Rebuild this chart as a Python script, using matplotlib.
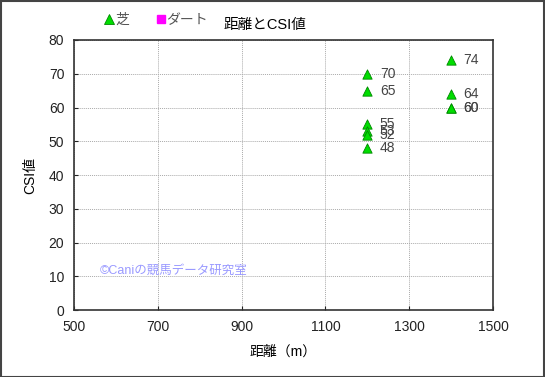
import matplotlib
matplotlib.use("Agg")
import matplotlib.pyplot as plt
from matplotlib.lines import Line2D
from matplotlib.patches import Rectangle

plt.rcParams['font.family'] = ['Liberation Sans', 'Noto Sans CJK JP', 'DejaVu Sans']

# 芝 (turf) races: distance and CSI value
turf_distance = [1200, 1200, 1200, 1200, 1200, 1200, 1400, 1400, 1400, 1400]
turf_csi = [70, 65, 55, 53, 52, 48, 74, 64, 60, 60]

# ダート (dirt) races: none in this set
dirt_distance = []
dirt_csi = []

x_ticks = [500, 700, 900, 1100, 1300, 1500]
y_ticks = [0, 10, 20, 30, 40, 50, 60, 70, 80]

fig = plt.figure(figsize=(5.45, 3.77), dpi=100)
ax = fig.add_axes([0.1358, 0.1777, 0.7688, 0.7162])

ax.set_xlim(500, 1500)
ax.set_ylim(0, 80)
ax.set_xticks(x_ticks)
ax.set_yticks(y_ticks)
ax.tick_params(axis='both', direction='in', length=3, labelsize=10, colors='#222222', pad=7)
ax.grid(True, color='#aaaaaa', linestyle=(0, (1, 1)), linewidth=0.7)
ax.set_axisbelow(True)
for s in ax.spines.values():
    s.set_color('#333333')
    s.set_linewidth(1.2)

ax.scatter(turf_distance, turf_csi, marker='^', s=45, facecolor='#00dd00',
           edgecolor='#008800', linewidth=0.6, zorder=3)
ax.scatter(dirt_distance, dirt_csi, marker='s', s=40, facecolor='#ff00ff', zorder=3)

for x, y in zip(turf_distance, turf_csi):
    ax.annotate(str(y), (x, y), xytext=(9, 0), textcoords='offset points',
                va='center', ha='left', fontsize=10, color='#444444')

ax.text(562, 11.5, '©Caniの競馬データ研究室', fontsize=9, color='#9999ff',
        va='center', ha='left')

ax.set_xlabel('距離（m）', fontsize=10, labelpad=8)
ax.set_ylabel('CSI値', fontsize=10, labelpad=8)

fig.text(0.487, 0.935, '距離とCSI値', fontsize=10.5, ha='center', va='center')

handles = [
    Line2D([], [], marker='^', linestyle='none', markersize=7,
           markerfacecolor='#00dd00', markeredgecolor='#008800', markeredgewidth=0.6),
    Line2D([], [], marker='s', linestyle='none', markersize=6,
           markerfacecolor='#ff00ff', markeredgecolor='#ff00ff'),
]
leg = fig.legend(handles, ['芝', 'ダート'], ncol=2, frameon=False,
                 loc='center left', bbox_to_anchor=(0.17, 0.948),
                 handlelength=0.6, handletextpad=0.1, columnspacing=2.0,
                 fontsize=10)
for t in leg.get_texts():
    t.set_color('#555555')

fig.patches.append(Rectangle((0.001, 0.001), 0.997, 0.996, transform=fig.transFigure,
                             fill=False, edgecolor='#444444', linewidth=1.5))

fig.savefig('out.png', dpi=100)
